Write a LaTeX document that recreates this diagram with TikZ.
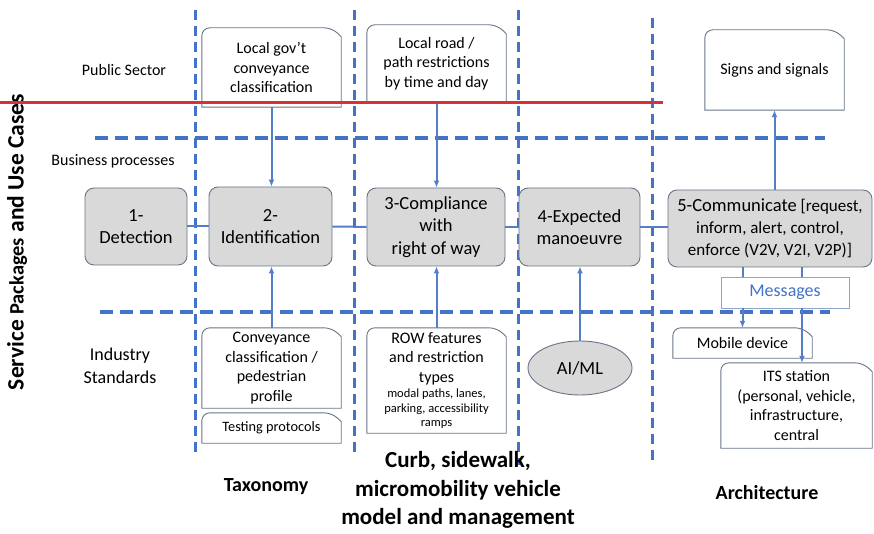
\documentclass[tikz,border=0pt]{standalone}
\usepackage{fontspec}
\setmainfont{Carlito}
\usetikzlibrary{arrows.meta,shapes.geometric}

\definecolor{laneblue}{RGB}{68,114,196}
\definecolor{linkblue}{RGB}{84,126,198}
\definecolor{procfill}{RGB}{217,217,217}
\definecolor{framegray}{RGB}{105,117,134}
\definecolor{msgframe}{RGB}{143,164,200}
\definecolor{redline}{RGB}{214,48,56}

\newcommand{\snipframe}[1]{%
  \draw[draw=framegray,line width=0.9pt] (#1.south west)
    [rounded corners=8pt] -- (#1.north west) -- ([xshift=-9pt]#1.north east)
    [sharp corners] -- ([yshift=-9pt]#1.north east) -- (#1.south east) -- cycle;}

\begin{document}
\begin{tikzpicture}[x=1pt,y=-1pt,
  lane/.style={draw=laneblue,line width=3pt,dash pattern=on 10pt off 6pt},
  hlane/.style={draw=laneblue,line width=3.3pt,dash pattern=on 13pt off 7pt},
  link/.style={draw=linkblue,line width=2pt},
  linkarrow/.style={link,-{Latex[length=7pt,width=6pt]}},
  snipnode/.style={fill=white,inner sep=0pt,align=center,font=\fontsize{16}{19.5}\selectfont},
  procbox/.style={draw=framegray,fill=procfill,line width=0.9pt,rounded corners=9pt,
    inner sep=0pt,align=center,font=\fontsize{18.5}{22.5}\selectfont},
  rowlabel/.style={align=center,font=\fontsize{16}{19.5}\selectfont},
  boldlabel/.style={align=center,font=\bfseries\fontsize{20}{24}\selectfont}]
  \useasboundingbox (0,0) rectangle (874,534);

  \draw[lane] (195,10) -- (195,457);
  \draw[lane] (354,10) -- (354,455);
  \draw[lane] (518,10) -- (518,465);
  \draw[lane] (652,18) -- (652,465);
  \draw[hlane] (95,138) -- (825,138);
  \draw[hlane] (100,312) -- (830,312);

  \node[rotate=90,font=\bfseries\fontsize{23.5}{28}\selectfont] (title) at (17,242)
    {Service {\fontsize{20.5}{24}\selectfont Packages} and Use Cases};
  \node[rowlabel] (pub) at (124,70) {Public Sector};
  \node[rowlabel] (bus) at (113,161) {Business processes};
  \node[rowlabel,font=\fontsize{18}{22.5}\selectfont] (ind) at (120,366) {Industry\\Standards};

  \node[snipnode,minimum width=139pt,minimum height=79pt] (gov) at (271.5,67.5)
    {Local gov’t\\conveyance\\classification};
  \snipframe{gov}
  \node[snipnode,minimum width=139pt,minimum height=77pt] (road) at (436.5,63.5)
    {Local road /\\path restrictions\\by time and day};
  \snipframe{road}
  \node[snipnode,minimum width=139pt,minimum height=80pt] (signs) at (774.5,70)
    {Signs and signals};
  \snipframe{signs}

  \node[procbox,minimum width=102pt,minimum height=77pt] (det) at (136,226.5) {1-\\Detection};
  \node[procbox,minimum width=123pt,minimum height=79pt] (ident) at (270.5,226.5) {2-\\Identification};
  \node[procbox,minimum width=138pt,minimum height=78pt] (comp) at (436,227)
    {3-Compliance\\with\\right of way};
  \node[procbox,minimum width=121pt,minimum height=78pt] (expect) at (579.5,227)
    {4-Expected\\manoeuvre};
  \node[procbox,minimum width=204pt,minimum height=77pt,font=\fontsize{17}{22}\selectfont] (comm) at (770,228.5)
    {{\fontsize{18.5}{22}\selectfont 5-Communicate} [request,\\inform, alert, control,\\enforce (V2V, V2I, V2P)]};

  \node[draw=msgframe,fill=white,line width=0.9pt,text=laneblue,inner sep=0pt,
    minimum width=128pt,minimum height=31pt,font=\fontsize{18}{22}\selectfont] (msg) at (785,292.5) {Messages};

  \node[snipnode,minimum width=139pt,minimum height=80pt] (conv) at (271.5,368)
    {Conveyance\\classification /\\pedestrian\\profile};
  \snipframe{conv}
  \node[snipnode,minimum width=139pt,minimum height=30pt,font=\fontsize{14.3}{17}\selectfont] (test) at (271.5,428)
    {Testing protocols};
  \snipframe{test}
  \node[snipnode,minimum width=139pt,minimum height=105pt] (row) at (436.5,380.5)
    {ROW features\\and restriction\\types\\[-4pt]{\fontsize{12.5}{14.5}\selectfont modal paths, lanes,}\\[-5pt]
     {\fontsize{12.5}{14.5}\selectfont parking, accessibility}\\[-5pt]{\fontsize{12.5}{14.5}\selectfont ramps}};
  \snipframe{row}
  \node[ellipse,draw=framegray,fill=procfill,line width=0.9pt,inner sep=0pt,
    minimum width=104pt,minimum height=54pt,font=\fontsize{18.5}{22}\selectfont] (aiml) at (580,368) {AI/ML};

  \node[snipnode,minimum width=139pt,minimum height=30pt] (mobile) at (742.5,343) {Mobile device};
  \snipframe{mobile}
  \node[snipnode,minimum width=151pt,minimum height=85pt] (its) at (796.5,405.5)
    {ITS station\\(personal, vehicle,\\infrastructure,\\central};
  \snipframe{its}
  \coordinate (tap) at (802,292.5);

  \draw[linkarrow] (gov.south) -- (gov.south |- ident.north);
  \draw[linkarrow] (road.south) -- (road.south |- comp.north);
  \draw[linkarrow] (signs.south |- comm.north) -- (signs.south);
  \draw[linkarrow] (conv.north) -- (conv.north |- ident.south);
  \draw[linkarrow] (row.north) -- (row.north |- comp.south);
  \draw[linkarrow] (aiml.north) -- (aiml.north |- expect.south);
  \draw[link] (det) -- (ident);
  \draw[link] (ident) -- (comp);
  \draw[link] (comp) -- (expect);
  \draw[link] (expect.east) -- (expect.east -| comm.west);
  \draw[link] (mobile.north |- comm.south) -- (mobile.north |- msg.north);
  \draw[link] (tap |- comm.south) -- (tap |- msg.north);
  \draw[linkarrow] (mobile.north |- msg.south) -- (mobile.north);
  \draw[linkarrow] (tap |- msg.south) -- (tap |- its.north);

  \node[boldlabel] (tax) at (266,487) {Taxonomy};
  \node[boldlabel,font=\bfseries\fontsize{23}{28.5}\selectfont] (curb) at (458,490)
    {Curb, sidewalk,\\micromobility vehicle\\model and management};
  \node[boldlabel] (arch) at (767,493) {Architecture};

  \draw[redline,line width=3pt] (0,103) -- (663,103);
\end{tikzpicture}
\end{document}
